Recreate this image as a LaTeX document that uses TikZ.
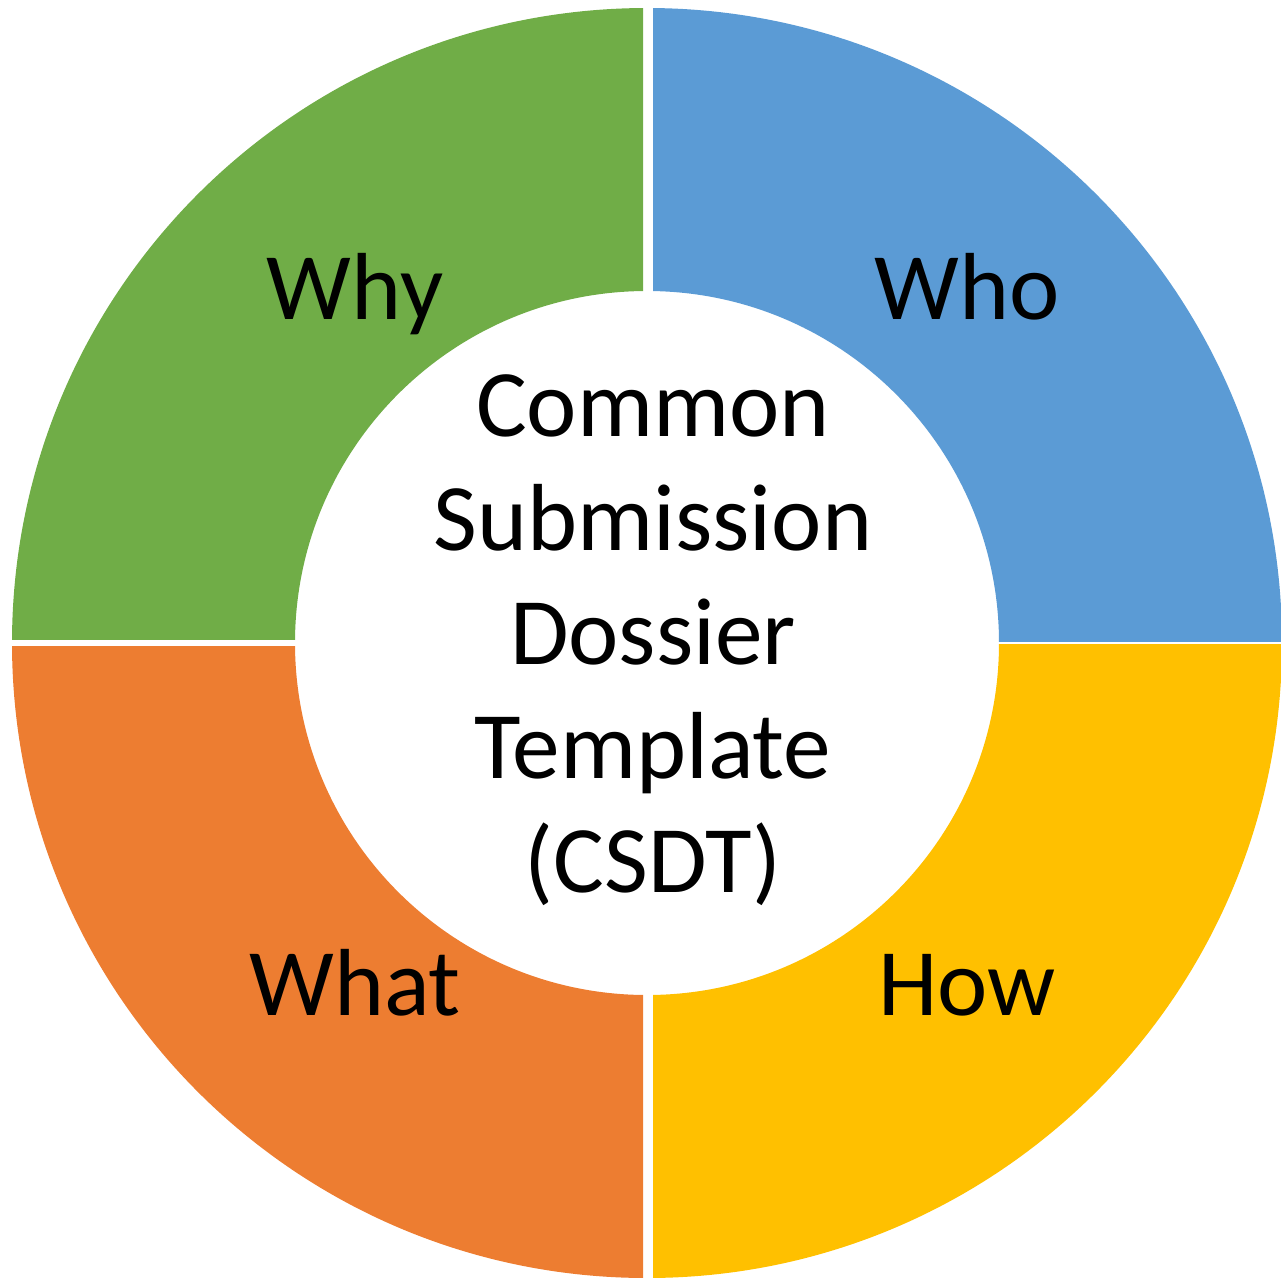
\documentclass[tikz,border=0pt]{standalone}
\usepackage{fontspec}
\setmainfont{Carlito}
\definecolor{segGreen}{HTML}{70AD47}
\definecolor{segBlue}{HTML}{5B9BD5}
\definecolor{segYellow}{HTML}{FFC000}
\definecolor{segOrange}{HTML}{ED7D31}
\begin{document}
\begin{tikzpicture}[x=0.01cm,y=-0.01cm,
  lbl/.style={font=\fontsize{27.1}{32.4}\selectfont, text=black, anchor=base, inner sep=0pt},
  core/.style={font=\fontsize{27.1}{32.4}\selectfont, text=black, align=center, inner sep=0pt}]
  \useasboundingbox (0,0) rectangle (1281,1278);
  \coordinate (c) at (647,643);
  % one annular sector per quadrant, each clipped to its own box
  \newcommand{\ringpart}[5]{%
    \begin{scope}
      \clip (#1,#2) rectangle (#3,#4);
      \fill[#5, even odd rule] (c) circle[radius=635] (c) circle[radius=352];
    \end{scope}}
  \ringpart{0}{0}{643}{639}{segGreen}
  \ringpart{653}{0}{1281}{641}{segBlue}
  \ringpart{653}{644.5}{1281}{1278}{segYellow}
  \ringpart{0}{646.5}{643}{1278}{segOrange}
  % quadrant labels
  \node[lbl] (why)  at (355,319)  {Why};
  \node[lbl] (who)  at (967,319)  {Who};
  \node[lbl] (what) at (355,1015) {What};
  \node[lbl] (how)  at (967,1015) {How};
  % centre title (base anchor sits on the last line)
  \node[core, anchor=base] (title) at (653,892)
    {Common\\Submission\\Dossier\\Template\\(CSDT)};
\end{tikzpicture}
\end{document}
